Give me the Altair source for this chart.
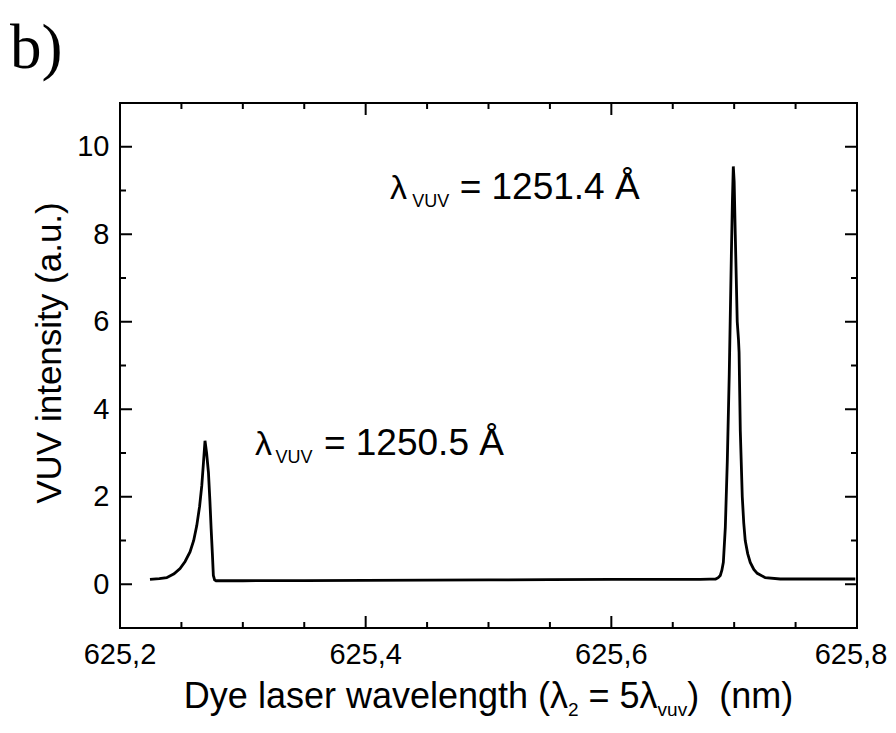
import altair as alt
import pandas as pd

# ---------------- data ----------------
wavelength = [625.2244, 625.2320, 625.2380, 625.2440, 625.2489, 625.2530, 625.2570,
              625.2600, 625.2625, 625.2648, 625.2666, 625.2680, 625.2692, 625.2705,
              625.2720, 625.2732, 625.2742, 625.2752, 625.2760, 625.2770, 625.2782,
              625.3000, 625.3500, 625.4000, 625.4500, 625.5000, 625.5500, 625.6000,
              625.6500, 625.6724, 625.6800, 625.6849, 625.6870, 625.6887, 625.6900,
              625.6912, 625.6928, 625.6944, 625.6960, 625.6977, 625.6986, 625.6993,
              625.7000, 625.7009, 625.7025, 625.7035, 625.7040, 625.7050, 625.7066,
              625.7078, 625.7090, 625.7110, 625.7131, 625.7160, 625.7188, 625.7253,
              625.7375, 625.7600, 625.7986]
intensity = [0.11, 0.13, 0.15, 0.24, 0.36, 0.52, 0.74,
             1.00, 1.34, 1.78, 2.26, 2.80, 3.28, 3.00,
             2.56, 1.90, 1.27, 0.70, 0.20, 0.10, 0.08,
             0.08, 0.085, 0.09, 0.095, 0.10, 0.105, 0.11,
             0.11, 0.11, 0.115, 0.12, 0.15, 0.20, 0.32,
             0.50, 1.30, 2.80, 4.80, 7.50, 8.80, 9.55,
             9.20, 8.00, 6.00, 5.60, 5.30, 3.50, 2.00,
             1.40, 1.00, 0.70, 0.50, 0.34, 0.25, 0.15,
             0.12, 0.12, 0.12]

x_major = [625.2, 625.4, 625.6, 625.8]
x_major_labels = ["625,2", "625,4", "625,6", "625,8"]
x_minor = [625.25, 625.3, 625.35, 625.45, 625.5, 625.55, 625.65, 625.7, 625.75]
y_major = [0, 2, 4, 6, 8, 10]
y_minor = [1, 3, 5, 7, 9]

x_domain = [625.2, 625.8]
y_domain = [-1, 11]

# annotations: anchors in data units
ann_lambda_x = [625.3100, 625.4199]
ann_sub_x = [625.3265, 625.4380]
ann_eq_x = [625.3660, 625.4765]
ann_base_y = [2.95, 8.8]
ann_sub_y = [2.77, 8.62]
ann_text = ["= 1250.5 Å", "= 1251.4 Å"]
ann_sub = ["VUV", "VUV"]

FONT = "Liberation Sans"
W, H = 737, 525

df = pd.DataFrame({"wavelength": wavelength, "intensity": intensity})
xs = alt.Scale(domain=x_domain, nice=False, zero=False)
ys = alt.Scale(domain=y_domain, nice=False, zero=False)

xaxis = alt.Axis(values=x_major, ticks=False, domain=False, grid=False,
                 labels=False, title=None)
yaxis = alt.Axis(values=y_major, ticks=False, domain=False, grid=False,
                 format="d", labelPadding=11, title=None)

X = lambda f: alt.X(f, scale=xs, axis=xaxis, title=None)
Y = lambda f: alt.Y(f, scale=ys, axis=yaxis, title=None)

line = alt.Chart(df).mark_line(color="black", strokeWidth=2.8, clip=True).encode(
    x=X("wavelength:Q"), y=Y("intensity:Q"))

def xticks(vals, length):
    d = pd.DataFrame({"v": vals})
    bot = alt.Chart(d).mark_rule(color="black", strokeWidth=2).encode(
        x=X("v:Q"), y=alt.value(H), y2=alt.value(H - length))
    top = alt.Chart(d).mark_rule(color="black", strokeWidth=2).encode(
        x=X("v:Q"), y=alt.value(0), y2=alt.value(length))
    return [bot, top]

def yticks(vals, length):
    d = pd.DataFrame({"v": vals})
    left = alt.Chart(d).mark_rule(color="black", strokeWidth=2).encode(
        y=Y("v:Q"), x=alt.value(0), x2=alt.value(length))
    right = alt.Chart(d).mark_rule(color="black", strokeWidth=2).encode(
        y=Y("v:Q"), x=alt.value(W), x2=alt.value(W - length))
    return [left, right]

ticks = xticks(x_major, 12) + xticks(x_minor, 6) + yticks(y_major, 12) + yticks(y_minor, 6)

# x tick labels (comma decimal); the last one nudged to stay inside the page
xl_df = pd.DataFrame({"v": x_major, "t": x_major_labels})
xlabels_in = alt.Chart(xl_df).transform_filter("datum.v < 625.75").mark_text(
    font=FONT, fontSize=29, align="center", baseline="middle", color="black").encode(
    x=X("v:Q"), y=alt.value(H + 27), text="t:N")
xlabels_last = alt.Chart(xl_df).transform_filter("datum.v >= 625.75").mark_text(
    font=FONT, fontSize=29, align="center", baseline="middle", color="black", dx=-6).encode(
    x=X("v:Q"), y=alt.value(H + 27), text="t:N")

ann_df = pd.DataFrame({"lx": ann_lambda_x, "sx": ann_sub_x, "ex": ann_eq_x,
                       "by": ann_base_y, "sy": ann_sub_y, "t": ann_text, "s": ann_sub})
ann_lambda = alt.Chart(ann_df).mark_text(text="λ", font=FONT, fontSize=34, align="left",
                                         baseline="alphabetic", color="black").encode(
    x=X("lx:Q"), y=Y("by:Q"))
ann_subm = alt.Chart(ann_df).mark_text(font=FONT, fontSize=18, align="left",
                                       baseline="alphabetic", color="black").encode(
    x=X("sx:Q"), y=Y("sy:Q"), text="s:N")
ann_main = alt.Chart(ann_df).mark_text(font=FONT, fontSize=37, align="left",
                                       baseline="alphabetic", color="black").encode(
    x=X("ex:Q"), y=Y("by:Q"), text="t:N")

# ---- x-axis title: pieces laid out with Arial/Liberation metrics ----
widths = {"D": .722, "y": .5, "e": .556, " ": .278, "l": .222, "a": .556, "s": .5,
          "r": .333, "w": .722, "v": .5, "n": .556, "g": .556, "t": .278, "h": .556,
          "(": .333, ")": .333, "λ": .5, "=": .584, "5": .556, "m": .833, "u": .556,
          "2": .556}

def tw(s, size):
    return sum(widths.get(c, .556) for c in s) * size

MAIN, SUB = 36, 19
# (text, font size, vertical shift, space before in em of MAIN)
pieces = [("Dye laser wavelength (λ", MAIN, 0, 0), ("2", SUB, 8, 0),
          ("= 5λ", MAIN, 0, 0.278), ("vuv", SUB, 8, 0), (")", MAIN, 0, 0),
          ("(nm)", MAIN, 0, 0.556)]
total = sum(tw(p[0], p[1]) + p[3] * MAIN for p in pieces)
x0 = W / 2 - total / 2
base_y = H + 80
title_layers = []
for txt, size, dy, gap in pieces:
    x0 += gap * MAIN
    title_layers.append(
        alt.Chart(pd.DataFrame({"t": [txt]})).mark_text(
            font=FONT, fontSize=size, align="left", baseline="alphabetic", color="black"
        ).encode(text="t:N", x=alt.value(x0), y=alt.value(base_y + dy)))
    x0 += tw(txt, size)

ytitle = alt.Chart(pd.DataFrame({"t": ["VUV intensity (a.u.)"]})).mark_text(
    font=FONT, fontSize=35, angle=270, align="center", baseline="middle", color="black"
).encode(text="t:N", x=alt.value(-70), y=alt.value(250))

panel = alt.Chart(pd.DataFrame({"t": ["b)"]})).mark_text(
    font="Liberation Serif", fontSize=63, align="left", baseline="alphabetic", color="black"
).encode(text="t:N", x=alt.value(-110), y=alt.value(-35))

chart = alt.layer(line, *ticks, xlabels_in, xlabels_last, ann_lambda, ann_subm, ann_main,
                  *title_layers, ytitle, panel).properties(
    width=W, height=H,
    padding={"left": 112, "top": 95, "right": 31, "bottom": 97},
    autosize=alt.AutoSizeParams(type="none"),
).configure(background="white").configure_view(
    stroke="black", strokeWidth=2
).configure_axis(labelFont=FONT, labelFontSize=29, labelColor="black")

chart.save("out.html", embed_options={"renderer": "svg", "actions": False})
